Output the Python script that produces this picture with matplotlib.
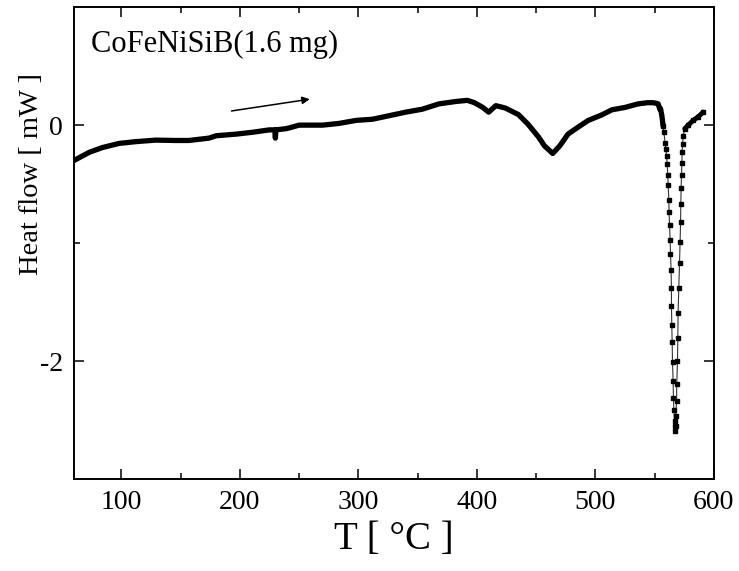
import numpy as np
import matplotlib
matplotlib.use("Agg")
import matplotlib.pyplot as plt
from matplotlib.ticker import MultipleLocator, FixedLocator

plt.rcParams['font.family'] = ['Liberation Serif', 'DejaVu Serif']

# Temperature [°C] and heat flow [mW]
T = [60, 73, 84, 98, 112, 129, 146, 157, 174, 180, 197, 211, 225, 229.5, 230, 230.5,
     239, 243, 250, 270, 284, 298, 312, 326, 340, 354, 368, 382, 392, 398, 405,
     410, 416, 424, 435, 443, 452, 457, 464, 470, 477, 485, 494, 505, 514, 525,
     536, 544, 548.7, 551.6, 553, 554.4, 555, 556.1, 556.3, 557.2,
     557.8, 558.9, 559.5, 560.1, 560.6, 561.1, 561.4, 562.0, 562.2, 562.6, 563.1,
     563.4, 563.9, 564.2, 564.2, 564.5, 564.8, 565.1, 565.6, 565.9, 566.2, 566.8,
     567.0, 567.0,
     567.9, 567.9, 568.5, 568.7, 569.3, 569.6, 569.8, 570.4, 571.0, 571.5, 571.9,
     572.1, 572.4, 572.7, 573.0, 573.2, 573.6, 574.1, 575.5, 578.3, 582.5, 586.7, 591.0]
H = [-0.30, -0.23, -0.19, -0.155, -0.14, -0.127, -0.13, -0.13, -0.11, -0.09, -0.076,
     -0.06, -0.04, -0.04, -0.11, -0.04,
     -0.03, -0.02, 0.00, 0.00, 0.015, 0.04, 0.05, 0.08, 0.11, 0.135, 0.18, 0.20,
     0.21, 0.19, 0.15,
     0.11, 0.165, 0.145, 0.09, 0.01, -0.10, -0.175, -0.24, -0.175, -0.075, -0.02,
     0.04, 0.085, 0.13, 0.15,
     0.18, 0.19, 0.19, 0.185, 0.18, 0.135, 0.14, 0.08, 0.065, -0.01,
     -0.06, -0.15, -0.20, -0.26, -0.33, -0.42, -0.51, -0.63, -0.74, -0.85, -0.97,
     -1.09, -1.23, -1.38, -1.53, -1.69, -1.84, -2.01, -2.17, -2.31, -2.41, -2.51,
     -2.55, -2.59,
     -2.55, -2.46, -2.34, -2.19, -2.00, -1.80, -1.59, -1.38, -1.17, -0.99, -0.82,
     -0.67, -0.53, -0.42, -0.32, -0.23, -0.16, -0.09, -0.03, 0.00, 0.04, 0.07, 0.11]

x_ticks = [100, 200, 300, 400, 500, 600]
y_ticks = [-2, 0]
y_tick_labels = ['-2', '0']
title_text = 'CoFeNiSiB(1.6 mg)'
arrow_from = (193, 0.12)
arrow_to = (259, 0.22)

T = np.array(T)
H = np.array(H)

fig = plt.figure(figsize=(7.39, 5.71), dpi=100)
ax = fig.add_axes([0.100, 0.1606, 0.866, 0.827])

dense = T <= 557.2
sparse = T >= 557.2
ax.plot(T[dense], H[dense], color='black', lw=3.8, solid_joinstyle='round',
        solid_capstyle='round')
ax.plot(T[sparse], H[sparse], color='#333333', lw=0.8, marker='s', ms=2.8,
        mfc='black', mec='black')
tail = T > 575
ax.plot(T[tail], H[tail], color='black', lw=3.5, solid_capstyle='round')

ax.set_xlim(60, 600)
ax.set_ylim(-3, 1)
ax.xaxis.set_major_locator(FixedLocator(x_ticks))
ax.xaxis.set_minor_locator(MultipleLocator(50))
ax.set_yticks(y_ticks)
ax.set_yticklabels(y_tick_labels)
ax.yaxis.set_minor_locator(FixedLocator([-1]))

ax.tick_params(which='both', direction='in', top=True, right=True, width=1.1,
               labelsize=20, colors='black')
ax.tick_params(which='major', length=7.5)
ax.tick_params(which='minor', length=4)
ax.tick_params(axis='x', pad=8)
ax.tick_params(axis='y', pad=8)
for s in ax.spines.values():
    s.set_linewidth(1.4)

ax.set_xlabel('T [ °C ]', fontsize=28, labelpad=4)
ax.set_ylabel('Heat flow [ mW ]', fontsize=20.5)
ax.yaxis.set_label_coords(-0.046, 0.647)

ax.text(0.027, 0.905, title_text, transform=ax.transAxes, fontsize=22,
        ha='left', va='baseline')

ax.annotate('', xy=arrow_to, xytext=arrow_from,
            arrowprops=dict(arrowstyle='-|>', lw=1.1, color='black',
                            mutation_scale=11, shrinkA=0, shrinkB=0))

fig.savefig('out.png', dpi=100)
